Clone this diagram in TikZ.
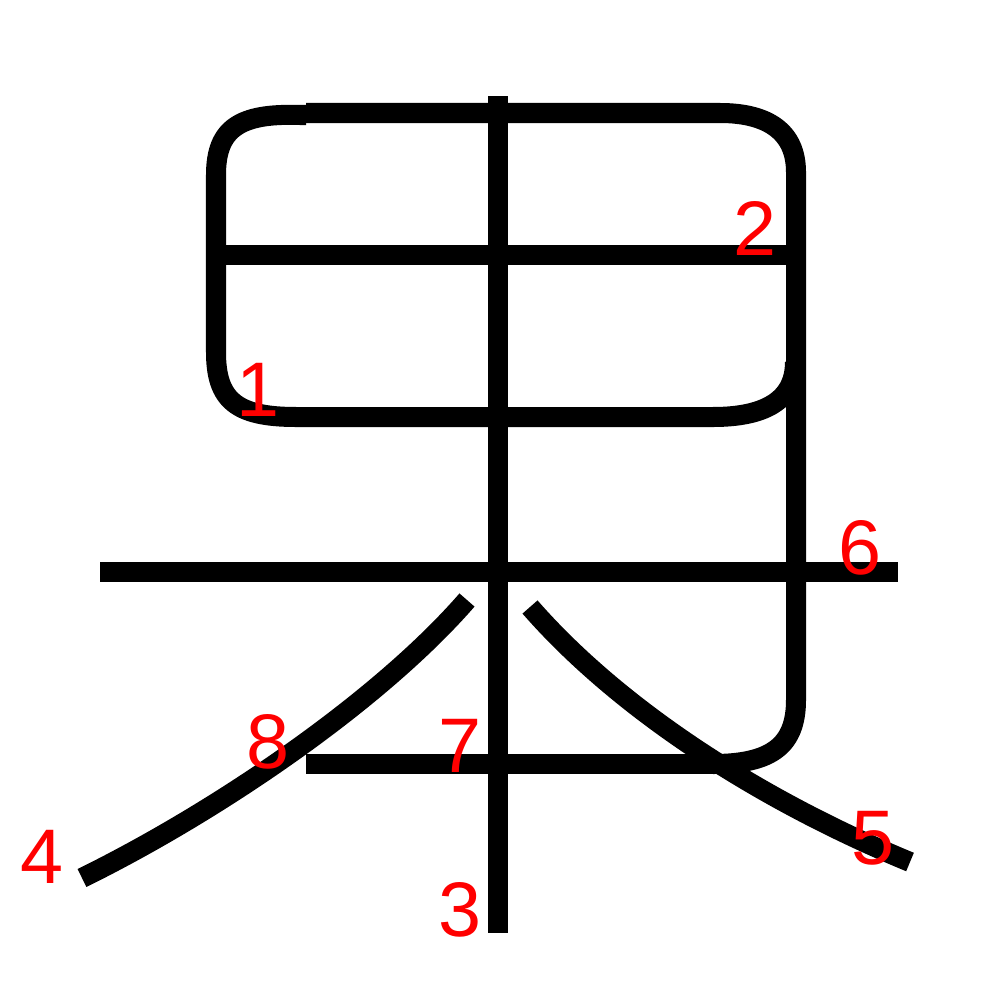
\documentclass[tikz,border=0pt]{standalone}
\usepackage{fontspec}
\setmainfont{Liberation Sans}
\usepackage{tikz}

\begin{document}
\begin{tikzpicture}[x=0.01cm,y=-0.01cm,line cap=butt,line join=round,
  stroke/.style={draw=black,line width=2mm},
  num/.style={text=red,font=\fontsize{22}{22}\selectfont,inner sep=0pt}]
\path[use as bounding box] (0,0) rectangle (1000,1000);
\fill[white] (0,0) rectangle (1000,1000);
% strokes
\draw[stroke] (306,115) -- (300,115) .. controls (240,113) and (216,128) .. (216,175)
  -- (216,352) .. controls (216,400) and (236,417) .. (296,417) -- (713,417)
  .. controls (762,417) and (795,402) .. (795,362);
\draw[stroke] (306,113) -- (720,113) .. controls (768,113) and (796,132) .. (796,172)
  -- (796,700) .. controls (796,745) and (772,764) .. (713,764);
\draw[stroke] (226,255) -- (788,255);
\draw[stroke] (498,96) -- (498,933);
\draw[stroke] (467,600) .. controls (380,700) and (220,810) .. (82,878);
\draw[stroke] (530,607) .. controls (620,710) and (760,800) .. (910,862);
\draw[stroke] (100,572) -- (898,572);
\draw[stroke] (306,764) -- (720,764);
% stroke numbers
\node[num] (n1) at (258,390) {1};
\node[num] (n2) at (755,228) {2};
\node[num] (n3) at (460,910) {3};
\node[num] (n4) at (42,857) {4};
\node[num] (n5) at (873,838) {5};
\node[num] (n6) at (860,548) {6};
\node[num] (n7) at (460,746) {7};
\node[num] (n8) at (268,742) {8};
\end{tikzpicture}
\end{document}
